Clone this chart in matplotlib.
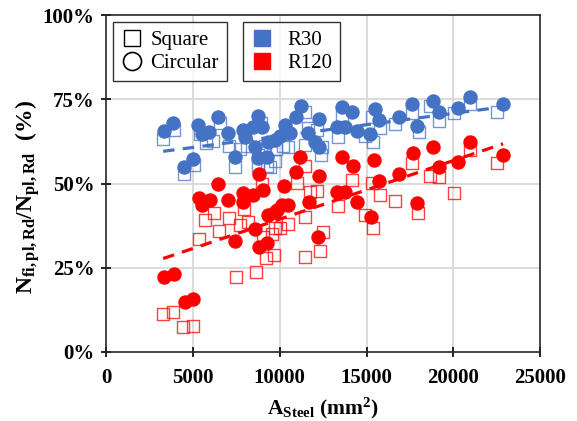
import numpy as np
import matplotlib
matplotlib.use("Agg")
import matplotlib.pyplot as plt
from matplotlib.lines import Line2D
from matplotlib.ticker import FuncFormatter

plt.rcParams['font.family'] = ['Liberation Serif', 'DejaVu Serif']
plt.rcParams['mathtext.fontset'] = 'custom'
plt.rcParams['mathtext.rm'] = 'Liberation Serif'
plt.rcParams['mathtext.bf'] = 'Liberation Serif:bold'
plt.rcParams['mathtext.it'] = 'Liberation Serif:italic'

# R30 - circular sections (A_steel in mm², ratio in %)
r30_circ_x = [3341, 3859, 4493, 5011, 5299, 5530, 5933, 6451, 7027, 7430, 7891, 8006,
              8467, 8755, 8986, 8582, 8755, 9274, 9331, 9734, 10022, 10310, 10598, 10944,
              11232, 11635, 12038, 12269, 12269, 13306, 13594, 13766, 14170, 14458, 15206,
              15494, 15725, 16877, 17626, 17914, 18835, 19181, 20275, 20966, 22867]
r30_circ_y = [65.6, 68.0, 54.9, 57.3, 67.4, 64.7, 65.3, 69.7, 65.0, 57.9, 65.9, 63.8,
              66.8, 70.0, 66.8, 60.8, 57.6, 57.9, 62.3, 62.9, 64.1, 67.4, 65.0, 69.7,
              73.0, 65.0, 62.3, 60.8, 69.1, 66.8, 72.7, 66.8, 71.2, 65.6, 64.7,
              72.1, 68.8, 69.7, 73.6, 67.1, 74.5, 71.2, 72.4, 75.7, 73.6]

# R30 - square sections
r30_sq_x = [3283, 3917, 4493, 5069, 5414, 5760, 6163, 6566, 7085, 7430, 7718, 8122,
            8755, 8928, 8755, 9274, 9158, 9792, 9446, 9734, 10195, 10483, 11462, 11635,
            11462, 12154, 12442, 12384, 13363, 13594, 14918, 15322, 15379, 15782, 16646,
            17626, 18029, 18662, 19181, 20045, 20966, 22522]
r30_sq_y = [63.2, 65.9, 52.8, 55.5, 64.7, 62.0, 62.6, 68.0, 61.1, 54.9, 60.2, 61.1,
            58.5, 68.0, 55.2, 55.2, 61.1, 60.2, 54.9, 56.7, 61.1, 60.8, 71.2, 66.5,
            61.4, 65.9, 60.8, 58.5, 63.8, 70.3, 64.1, 69.7, 62.3, 66.5, 67.7,
            70.9, 65.3, 73.0, 68.5, 70.9, 73.6, 71.2]

# R120 - circular sections
r120_circ_x = [3341, 3917, 4550, 5011, 5357, 5530, 5990, 6451, 7027, 7430, 7891, 7891,
               8467, 9043, 8813, 8582, 8813, 9274, 9331, 9734, 9850, 10138, 10483, 10253,
               10944, 11174, 11693, 12269, 12211, 13306, 13766, 13594, 14227, 14458, 15264,
               15437, 15725, 16877, 17683, 17914, 18835, 19181, 20275, 20966, 22867]
r120_circ_y = [22.3, 23.1, 14.8, 15.7, 45.7, 43.6, 45.1, 49.9, 45.1, 32.9, 47.2, 44.5,
               46.6, 48.1, 52.8, 36.5, 31.2, 32.3, 40.7, 41.5, 42.1, 43.6, 43.6, 49.3,
               53.4, 57.9, 44.5, 52.2, 34.1, 47.5, 47.5, 57.9, 55.2, 44.5, 40.1,
               57.0, 50.7, 52.8, 59.1, 44.2, 60.8, 54.9, 56.4, 62.3, 58.5]

# R120 - square sections
r120_sq_x = [3283, 3859, 4435, 5011, 5357, 5702, 6221, 6509, 7085, 7718, 7949, 8179,
             7488, 8640, 9216, 9677, 9562, 9043, 8986, 9734, 10022, 10483, 11002, 11462,
             11462, 11750, 12154, 12326, 11462, 12499, 13363, 14170, 14918, 15322, 15379,
             15782, 16646, 17971, 17626, 18662, 19181, 20045, 20966, 22522]
r120_sq_y = [11.3, 11.9, 7.4, 7.7, 33.5, 39.2, 41.2, 35.9, 39.8, 37.7, 42.4, 38.6,
             22.3, 23.7, 27.9, 28.8, 35.0, 34.1, 49.9, 36.8, 36.8, 38.0, 50.1, 55.2,
             40.1, 47.5, 47.8, 30.0, 28.2, 35.6, 43.3, 51.0, 40.7, 50.1, 36.8,
             46.6, 44.8, 41.2, 56.1, 52.2, 51.9, 47.2, 59.9, 56.1]

BLUE = '#4472C4'
RED = '#FF0000'

fig = plt.figure(figsize=(5.77, 4.21), dpi=100)
ax = fig.add_axes([0.184, 0.164, 0.752, 0.800])

for v in [5000, 10000, 15000, 20000]:
    ax.axvline(v, color='#D9D9D9', lw=1.3, zorder=0)
for v in [25, 50, 75]:
    ax.axhline(v, color='#D9D9D9', lw=1.3, zorder=0)

ax.scatter(r30_sq_x, r30_sq_y, marker='s', s=75, facecolors='none',
           edgecolors=BLUE, linewidths=1.0, alpha=0.75, zorder=2)
ax.scatter(r120_sq_x, r120_sq_y, marker='s', s=75, facecolors='none',
           edgecolors=RED, linewidths=1.0, alpha=0.75, zorder=2)
ax.scatter(r30_circ_x, r30_circ_y, marker='o', s=88, color=BLUE, zorder=3)
ax.scatter(r120_circ_x, r120_circ_y, marker='o', s=88, color=RED, zorder=3)

# linear trend lines over all sections of each fire rating
for xs, ys, c in [(r30_sq_x + r30_circ_x, r30_sq_y + r30_circ_y, BLUE),
                  (r120_sq_x + r120_circ_x, r120_sq_y + r120_circ_y, RED)]:
    k, b = np.polyfit(xs, ys, 1)
    xx = np.array([min(xs), max(xs)])
    ax.plot(xx, k * xx + b, color=c, lw=2.3, ls=(0, (3.6, 2.6)), zorder=4)

ax.set_xlim(0, 25000)
ax.set_ylim(0, 100)
ax.set_xticks(np.arange(0, 25001, 5000))
ax.set_yticks([0, 25, 50, 75, 100])
ax.yaxis.set_major_formatter(FuncFormatter(lambda v, p: f'{int(v)}%'))
ax.tick_params(direction='inout', length=7, width=1.2, labelsize=15)
ax.tick_params(axis='x', pad=8)
ax.tick_params(axis='y', pad=5)
for lab in ax.get_xticklabels() + ax.get_yticklabels():
    lab.set_fontweight('bold')
for sp in ax.spines.values():
    sp.set_linewidth(1.2)
    sp.set_color('#262626')

ax.set_xlabel(r'$\mathbf{A}_{\mathbf{Steel}}$ (mm$^\mathbf{2}$)', fontsize=15.5,
              fontweight='bold', labelpad=6)
ax.set_ylabel(r'$\mathbf{N}_{\mathbf{fi,pl,Rd}}\mathbf{/N}_{\mathbf{pl,Rd}}$  (%)',
              fontsize=17, fontweight='bold')
ax.yaxis.set_label_coords(-0.149, 0.46)

shape_handles = [
    Line2D([], [], ls='none', marker='s', ms=12, mfc='none', mec='black', mew=1.0),
    Line2D([], [], ls='none', marker='o', ms=13, mfc='none', mec='black', mew=1.2),
]
leg1 = ax.legend(shape_handles, ['Square', 'Circular'], loc='upper left',
                 bbox_to_anchor=(0.016, 0.979), fontsize=15, frameon=True,
                 fancybox=False, edgecolor='black', handletextpad=0.4,
                 handlelength=1.0, borderpad=0.4, labelspacing=0.15,
                 borderaxespad=0)
leg1.get_frame().set_linewidth(1.0)
ax.add_artist(leg1)

fire_handles = [
    Line2D([], [], ls='none', marker='s', ms=12, mfc=BLUE, mec=BLUE),
    Line2D([], [], ls='none', marker='s', ms=12, mfc=RED, mec=RED),
]
leg2 = ax.legend(fire_handles, ['R30', 'R120'], loc='upper left',
                 bbox_to_anchor=(0.316, 0.979), fontsize=15, frameon=True,
                 fancybox=False, edgecolor='black', handletextpad=0.7,
                 handlelength=1.0, borderpad=0.4, labelspacing=0.15,
                 borderaxespad=0)
leg2.get_frame().set_linewidth(1.0)

fig.savefig('out.png', dpi=100)
